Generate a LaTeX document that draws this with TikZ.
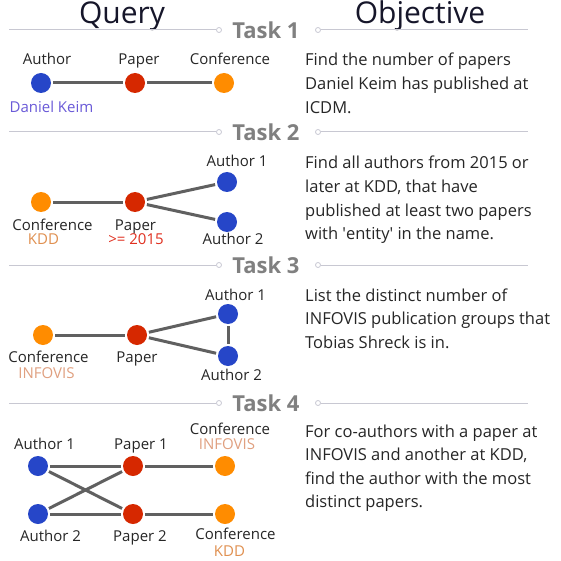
\documentclass[tikz,border=0pt]{standalone}
\usepackage{fontspec}
\setmainfont{Open Sans}
\definecolor{authorc}{HTML}{2646C8}
\definecolor{paperc}{HTML}{D62800}
\definecolor{confc}{HTML}{FF8C00}
\definecolor{edgec}{HTML}{606060}
\definecolor{sepc}{HTML}{C8C8D2}
\definecolor{taskc}{HTML}{808080}
\definecolor{headc}{HTML}{16162A}
\definecolor{txtc}{HTML}{262626}
\definecolor{keimc}{HTML}{6A5AD8}
\definecolor{kddc}{HTML}{E09050}
\definecolor{yearc}{HTML}{E03020}
\definecolor{infoc}{HTML}{E0A080}
\tikzset{
  dot/.style={circle, inner sep=0pt, minimum size=20pt},
  authordot/.style={dot, fill=authorc},
  paperdot/.style={dot, fill=paperc},
  confdot/.style={dot, fill=confc},
  edge/.style={draw=edgec, line width=3pt, shorten <=2pt, shorten >=2pt},
  lbl/.style={anchor=base, inner sep=0pt, font=\fontsize{15}{18}\selectfont, text=txtc},
  body/.style={anchor=base west, inner sep=0pt, font=\fontsize{16.5}{23.6}\selectfont, text=txtc},
  tasklbl/.style={inner sep=0pt, font=\fontsize{22}{26}\selectfont\bfseries, text=taskc},
  head/.style={inner sep=0pt, font=\fontsize{30}{34}\selectfont, text=headc},
  sep/.style={draw=sepc, line width=1pt},
  sepmark/.style={circle, draw=sepc, fill=white, line width=0.8pt, inner sep=0pt, minimum size=5pt}
}
\newcommand{\bodypara}[1]{\vtop{\baselineskip=23.6pt #1}}
\begin{document}
\begin{tikzpicture}[x=1pt,y=-1pt]
\useasboundingbox (0,0) rectangle (561,561);
\fill[white] (0,0) rectangle (561,561);

% headers
\node[head] (hq) at (122,16) {Query};
\node[head] (ho) at (420,16) {Objective};

% separators and task labels
\foreach \y/\n in {30/1,132/2,265/3,403/4}{
  \coordinate (sl\n) at (9,\y);
  \node[sepmark] (ml\n) at (219,\y) {};
  \node[sepmark] (mr\n) at (318,\y) {};
  \coordinate (sr\n) at (528,\y);
  \draw[sep] (sl\n) -- (ml\n);
  \draw[sep] (mr\n) -- (sr\n);
  \node[tasklbl] (t\n) at (266,\y) {Task \n};
}

% Task 1
\node[authordot] (a1) at (41,83) {};
\node[paperdot] (p1) at (135,83) {};
\node[confdot] (c1) at (224,83) {};
\draw[edge] (a1) -- (p1);
\draw[edge] (p1) -- (c1);
\node[lbl] (la1) at (47,65) {Author};
\node[lbl] (lp1) at (139,65) {Paper};
\node[lbl] (lc1) at (230,65) {Conference};
\node[lbl, text=keimc] (lk1) at (51.5,113) {Daniel Keim};
\node[body] (o1) at (305,66) {\bodypara{\hbox{Find the number of papers}\hbox{Daniel Keim has published at}\hbox{ICDM.}}};

% Task 2
\node[confdot] (c2) at (41,202) {};
\node[paperdot] (p2) at (135,202) {};
\node[authordot] (a2a) at (227,182) {};
\node[authordot] (a2b) at (227,222) {};
\draw[edge] (c2) -- (p2);
\draw[edge] (p2) -- (a2a);
\draw[edge] (p2) -- (a2b);
\node[lbl] (la2a) at (237,167) {Author 1};
\node[lbl] (lc2) at (52.5,230) {Conference};
\node[lbl, text=kddc] (lk2) at (43.5,244) {KDD};
\node[lbl] (lp2) at (135.5,230) {Paper};
\node[lbl, text=yearc] (ly2) at (136,244) {>= 2015};
\node[lbl] (la2b) at (233,244) {Author 2};
\node[body] (o2) at (305,169) {\bodypara{\hbox{Find all authors from 2015 or}\hbox{later at KDD, that have}\hbox{published at least two papers}\hbox{with \textquotesingle entity\textquotesingle{} in the name.}}};

% Task 3
\node[confdot] (c3) at (43,335) {};
\node[paperdot] (p3) at (137,335) {};
\node[authordot] (a3a) at (228,314) {};
\node[authordot] (a3b) at (228,356) {};
\draw[edge] (c3) -- (p3);
\draw[edge] (p3) -- (a3a);
\draw[edge] (p3) -- (a3b);
\draw[edge] (a3a) -- (a3b);
\node[lbl] (la3a) at (235.5,300) {Author 1};
\node[lbl] (lc3) at (48.5,362) {Conference};
\node[lbl, text=infoc] (li3) at (46.5,378) {INFOVIS};
\node[lbl] (lp3) at (137,362) {Paper};
\node[lbl] (la3b) at (231.5,380) {Author 2};
\node[body] (o3) at (305,301) {\bodypara{\hbox{List the distinct number of}\hbox{INFOVIS publication groups that}\hbox{Tobias Shreck is in.}}};

% Task 4
\node[authordot] (a4a) at (38,466) {};
\node[paperdot] (p4a) at (133,466) {};
\node[confdot] (c4a) at (225,466) {};
\node[authordot] (a4b) at (38,514) {};
\node[paperdot] (p4b) at (133,514) {};
\node[confdot] (c4b) at (225,514) {};
\draw[edge] (a4a) -- (p4a);
\draw[edge] (a4a) -- (p4b);
\draw[edge] (a4b) -- (p4a);
\draw[edge] (a4b) -- (p4b);
\draw[edge] (p4a) -- (c4a);
\draw[edge] (p4b) -- (c4b);
\node[lbl] (la4a) at (44.5,449) {Author 1};
\node[lbl] (lp4a) at (141,449) {Paper 1};
\node[lbl] (lc4a) at (230,434) {Conference};
\node[lbl, text=infoc] (li4) at (227,449) {INFOVIS};
\node[lbl] (la4b) at (50.5,541) {Author 2};
\node[lbl] (lp4b) at (140,541) {Paper 2};
\node[lbl] (lc4b) at (235.5,539) {Conference};
\node[lbl, text=kddc] (lk4) at (229.5,556) {KDD};
\node[body] (o4) at (305,437) {\bodypara{\hbox{For co-authors with a paper at}\hbox{INFOVIS and another at KDD,}\hbox{find the author with the most}\hbox{distinct papers.}}};
\end{tikzpicture}
\end{document}
